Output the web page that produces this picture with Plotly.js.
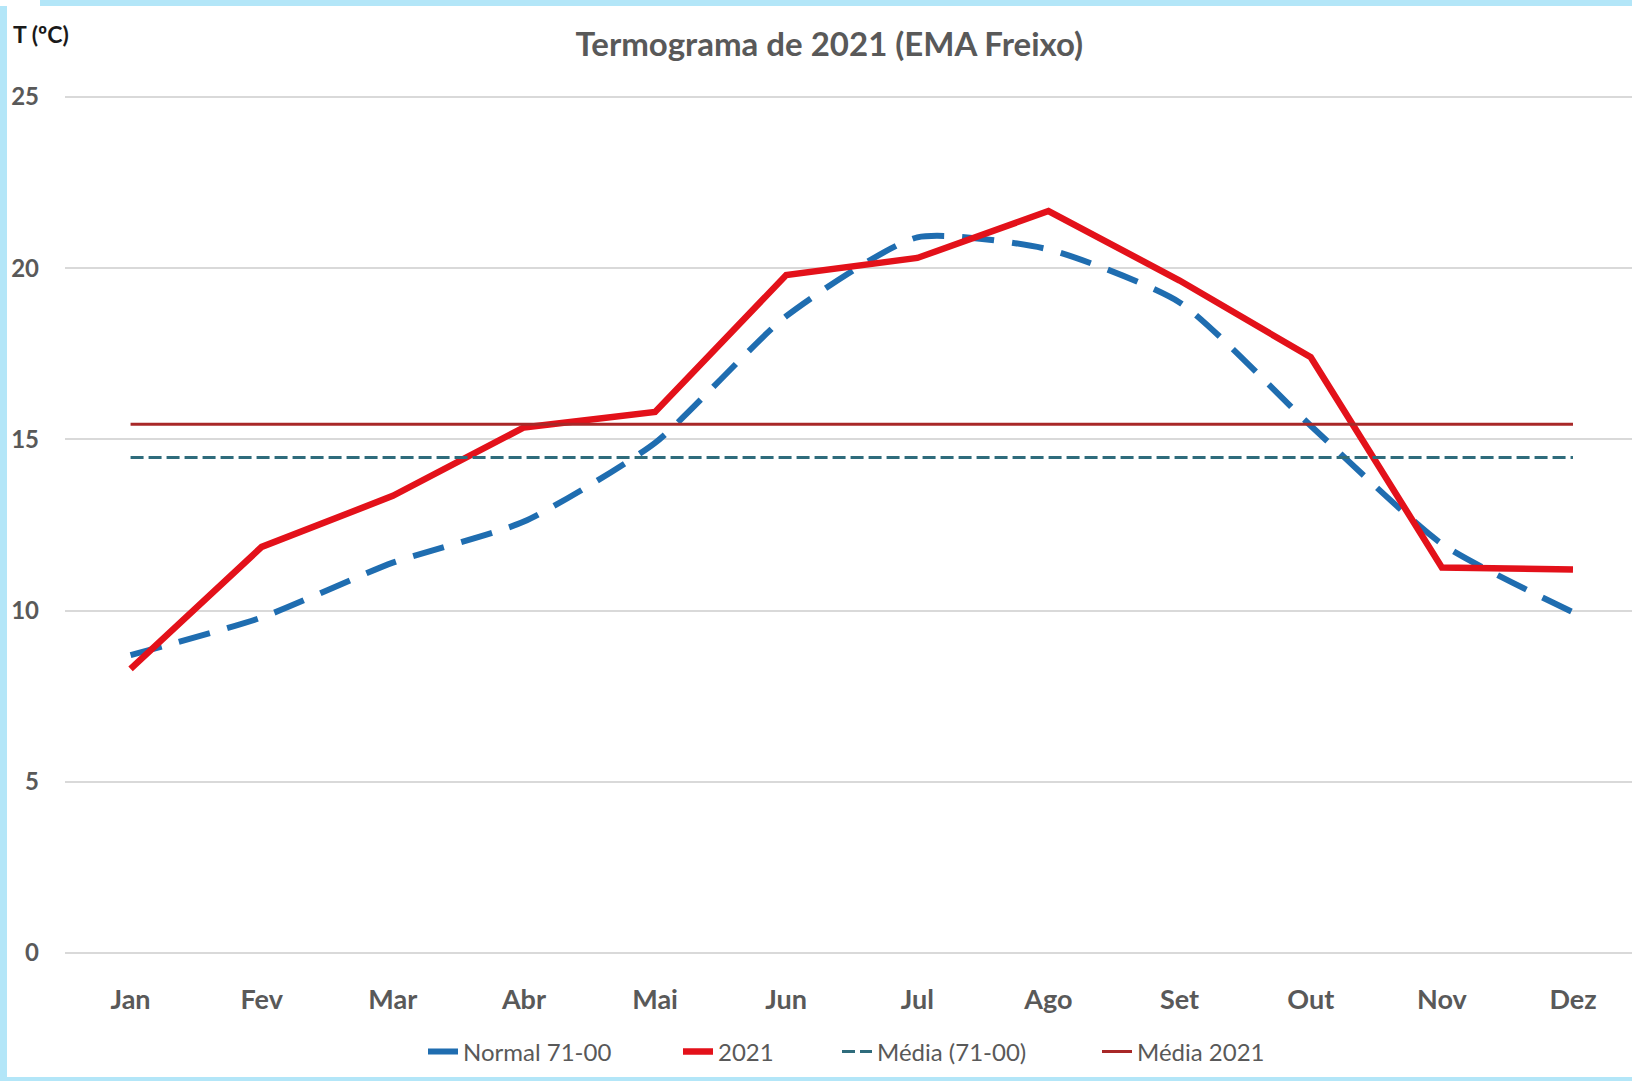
<!DOCTYPE html>
<html>
<head>
<meta charset="utf-8">
<script src="https://cdn.plot.ly/plotly-3.0.1.min.js"></script>
<style>
  body { margin: 0; background: #b3e6f8; width: 1632px; height: 1081px; overflow: hidden; }
  #corner { position: absolute; left: 0; top: 0; width: 40px; height: 6px; background: #fff; }
  #chart { position: absolute; left: 7px; top: 6px; width: 1625px; height: 1071px; background: #fff; }
</style>
</head>
<body>
<div id="corner"></div>
<div id="chart"></div>
<script>
// monthly mean temperatures (ºC)
var meses = ["Jan", "Fev", "Mar", "Abr", "Mai", "Jun", "Jul", "Ago", "Set", "Out", "Nov", "Dez"];
var normal7100 = [8.7, 9.8, 11.4, 12.6, 14.9, 18.6, 20.9, 20.55, 19.0, 15.4, 11.95, 9.95];
var ano2021 = [8.3, 11.86, 13.35, 15.35, 15.8, 19.8, 20.3, 21.67, 19.64, 17.4, 11.26, 11.2];
var media7100 = [14.47, 14.47, 14.47, 14.47, 14.47, 14.47, 14.47, 14.47, 14.47, 14.47, 14.47, 14.47];
var media2021 = [15.44, 15.44, 15.44, 15.44, 15.44, 15.44, 15.44, 15.44, 15.44, 15.44, 15.44, 15.44];
var yTicks = [0, 5, 10, 15, 20, 25];

var W = 1625, H = 1071;

var traceNormal = {
  type: 'scatter',
  x: meses,
  y: normal7100,
  mode: 'lines',
  name: 'Normal 71-00',
  legend: 'legend',
  line: { color: '#1f6db0', width: 6, dash: '32px,18px', shape: 'spline', smoothing: 0.6 }
};

var trace2021 = {
  type: 'scatter',
  x: meses,
  y: ano2021,
  mode: 'lines',
  name: '2021',
  legend: 'legend2',
  line: { color: '#e3111a', width: 6.5 }
};

var traceMedia7100 = {
  type: 'scatter',
  x: meses,
  y: media7100,
  mode: 'lines',
  name: 'Média (71-00)',
  legend: 'legend3',
  line: { color: '#2f6c7c', width: 3, dash: '13px,5px' }
};

var traceMedia2021 = {
  type: 'scatter',
  x: meses,
  y: media2021,
  mode: 'lines',
  name: 'Média 2021',
  legend: 'legend4',
  line: { color: '#a82828', width: 3 }
};

// one legend box per entry so the entries can be spaced like the original
function legendAt(px) {
  return {
    orientation: 'h',
    x: px / W, xanchor: 'left', xref: 'container',
    y: 1 - 1046 / H, yanchor: 'middle', yref: 'container',
    font: { size: 24, color: '#595959', family: 'Lato, sans-serif' },
    bgcolor: 'rgba(0,0,0,0)'
  };
}

var layout = {
  width: W,
  height: H,
  margin: { l: 58, r: 0, t: 90, b: 123 },
  paper_bgcolor: '#ffffff',
  plot_bgcolor: '#ffffff',
  font: { family: 'Lato, "Open Sans", sans-serif', color: '#595959' },
  title: {
    text: '<b>Termograma de 2021 (EMA Freixo)</b>',
    font: { size: 33, color: '#595959' },
    x: 0.506, xref: 'container', xanchor: 'center',
    y: 1 - 38 / H, yref: 'container', yanchor: 'middle'
  },
  xaxis: {
    type: 'category',
    range: [-0.5, 11.45],
    showgrid: false,
    zeroline: false,
    showline: false,
    ticks: '',
    tickfont: { size: 27, color: '#595959', family: 'Lato, sans-serif', weight: 'bold' },
    ticklabelstandoff: 27
  },
  yaxis: {
    range: [-0.03, 25.03],
    tickvals: yTicks,
    ticktext: yTicks.map(String),
    showgrid: true,
    gridcolor: '#d9d9d9',
    gridwidth: 2,
    zeroline: false,
    showline: false,
    ticks: '',
    ticklabelstandoff: 25,
    tickfont: { size: 24, color: '#595959', family: 'Lato, sans-serif', weight: 'bold' }
  },
  legend: legendAt(416),
  legend2: legendAt(671),
  legend3: legendAt(830),
  legend4: legendAt(1090),
  annotations: [{
    text: '<b>T (ºC)</b>',
    xref: 'paper', yref: 'paper',
    x: (4 - 58) / 1567, y: 1 + (90 - 28) / 858,
    xanchor: 'left', yanchor: 'middle',
    showarrow: false,
    font: { size: 23, color: '#1a1a1a', family: 'Lato, sans-serif' }
  }],
  showlegend: true
};

Plotly.newPlot('chart', [traceNormal, trace2021, traceMedia7100, traceMedia2021], layout, { displayModeBar: false });
</script>
</body>
</html>
